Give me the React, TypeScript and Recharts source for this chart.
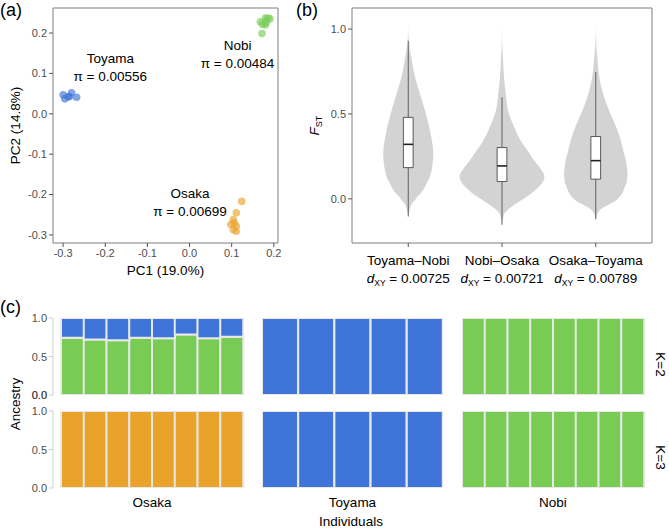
import React from 'react'
import {
  Area,
  Bar,
  BarChart,
  ComposedChart,
  ReferenceArea,
  ReferenceLine,
  Scatter,
  ScatterChart,
  XAxis,
  YAxis,
} from 'recharts'

const BLUE = '#3f74d8'
const GREEN = '#78cc54'
const ORANGE = '#e9a32b'
const TICK_TEXT = '#4d4d4d'
const FONT = '"Liberation Sans", Arial, Helvetica, sans-serif'

// (a) PCA
const toyamaPC1 = [-0.3, -0.296, -0.288, -0.285, -0.28, -0.268]
const toyamaPC2 = [0.047, 0.037, 0.042, 0.043, 0.052, 0.041]
const nobiPC1 = [0.168, 0.18, 0.186, 0.18, 0.172, 0.173, 0.191, 0.182]
const nobiPC2 = [0.228, 0.237, 0.237, 0.22, 0.199, 0.222, 0.235, 0.227]
const osakaPC1 = [0.124, 0.111, 0.104, 0.106, 0.098, 0.111, 0.111, 0.104]
const osakaPC2 = [-0.217, -0.245, -0.262, -0.27, -0.274, -0.278, -0.291, -0.287]
const pcXTicks = [-0.3, -0.2, -0.1, 0, 0.1, 0.2]
const pcYTicks = [-0.3, -0.2, -0.1, 0, 0.1, 0.2]
const pcXDomain = [-0.324, 0.21]
const pcYDomain = [-0.32, 0.262]
const popNames = ['Toyama', 'Nobi', 'Osaka']
const popPi = ['0.00556', '0.00484', '0.00699']
const popLabelPC1 = [-0.188, 0.114, 0.001]
const popLabelPC2 = [0.139, 0.17, -0.196]

// (b) Fst violins
const pairNames = ['Toyama–Nobi', 'Nobi–Osaka', 'Osaka–Toyama']
const pairDxy = ['0.00725', '0.00721', '0.00789']
const fstGrid = [
  -0.155, -0.125, -0.105, -0.085, -0.065, -0.045, -0.025, -0.005, 0.015, 0.035,
  0.07, 0.09, 0.13, 0.14, 0.17, 0.19, 0.23, 0.27, 0.33, 0.43, 0.52, 0.62, 0.72,
  0.82, 0.92, 1.035,
]
const violinToyamaNobi = [
  0, 0, 0, 0.007, 0.014, 0.025, 0.043, 0.075, 0.1, 0.135, 0.178, 0.195, 0.231,
  0.236, 0.25, 0.256, 0.264, 0.267, 0.256, 0.22, 0.178, 0.124, 0.071, 0.036,
  0.011, 0,
]
const violinNobiOsaka = [
  0, 0.007, 0.015, 0.028, 0.06, 0.107, 0.16, 0.213, 0.27, 0.32, 0.39, 0.425,
  0.452, 0.45, 0.42, 0.395, 0.338, 0.29, 0.213, 0.124, 0.065, 0.039, 0.021,
  0.011, 0.004, 0,
]
const violinOsakaToyama = [
  0, 0, 0.008, 0.018, 0.045, 0.1, 0.17, 0.225, 0.26, 0.284, 0.31, 0.327, 0.336,
  0.338, 0.336, 0.33, 0.32, 0.3, 0.274, 0.213, 0.142, 0.078, 0.036, 0.018,
  0.007, 0,
]
const boxLow = [-0.104, -0.153, -0.12]
const boxQ1 = [0.184, 0.102, 0.116]
const boxMedian = [0.321, 0.194, 0.225]
const boxQ3 = [0.48, 0.302, 0.367]
const boxHigh = [0.931, 0.598, 0.747]

// (c) ancestry
const osakaIds = ['O1', 'O2', 'O3', 'O4', 'O5', 'O6', 'O7', 'O8']
const toyamaIds = ['T1', 'T2', 'T3', 'T4', 'T5']
const nobiIds = ['N1', 'N2', 'N3', 'N4', 'N5', 'N6', 'N7', 'N8']
const osakaK2Green = [0.742, 0.721, 0.712, 0.742, 0.738, 0.785, 0.738, 0.755]
const osakaK2Blue = [0.258, 0.279, 0.288, 0.258, 0.262, 0.215, 0.262, 0.245]
const toyamaK2Blue = [1, 1, 1, 1, 1]
const nobiK2Green = [1, 1, 1, 1, 1, 1, 1, 1]
const osakaK3Orange = [1, 1, 1, 1, 1, 1, 1, 1]
const toyamaK3Blue = [1, 1, 1, 1, 1]
const nobiK3Green = [1, 1, 1, 1, 1, 1, 1, 1]
const ancestryTicks = [0, 0.5, 1]

const pcPoints = (xs: number[], ys: number[]) => xs.map((x, i) => ({ x, y: ys[i] }))
const popLabels = popNames.map((name, i) => ({
  name,
  pi: popPi[i],
  x: popLabelPC1[i],
  y: popLabelPC2[i],
}))

const violinRows = fstGrid.map((fst, i) => ({
  fst,
  tn: [1 - violinToyamaNobi[i], 1 + violinToyamaNobi[i]],
  no: [2 - violinNobiOsaka[i], 2 + violinNobiOsaka[i]],
  ot: [3 - violinOsakaToyama[i], 3 + violinOsakaToyama[i]],
}))

const ancestryRows = (
  ids: string[],
  parts: { orange?: number[]; green?: number[]; blue?: number[] },
) =>
  ids.map((id, i) => ({
    id,
    orange: parts.orange ? parts.orange[i] : 0,
    green: parts.green ? parts.green[i] : 0,
    blue: parts.blue ? parts.blue[i] : 0,
  }))

const fmt1 = (v: number) => v.toFixed(1)
const dot = (color: string) => (p: any) => (
  <circle cx={p.cx} cy={p.cy} r={3.8} fill={color} fillOpacity={0.65} />
)

function PopLabel(p: any) {
  return (
    <g>
      <text x={p.cx} y={p.cy + 5} textAnchor='middle' fontSize={13.5} fill='#000'>
        {p.payload.name}
      </text>
      <text x={p.cx} y={p.cy + 23} textAnchor='middle' fontSize={13.5} fill='#000'>
        π = {p.payload.pi}
      </text>
    </g>
  )
}

function PairTick({ x, y, payload }: any) {
  const i = Math.round(payload.value) - 1
  return (
    <g>
      <text x={x} y={y + 16} textAnchor='middle' fontSize={13.5} fill='#000'>
        {pairNames[i]}
      </text>
      <text x={x} y={y + 34} textAnchor='middle' fontSize={13.5} fill='#000'>
        <tspan fontStyle='italic'>d</tspan>
        <tspan fontSize={8.5} dy={3}>XY</tspan>
        <tspan dy={-3}> = {pairDxy[i]}</tspan>
      </text>
    </g>
  )
}

// ancestry y tick, drawn by the axis at each tick position
function AncestryTick({ x, y, payload }: any) {
  return (
    <text x={x} y={y + 4} textAnchor='end' fontSize={11} fill={TICK_TEXT}>
      {fmt1(payload.value)}
    </text>
  )
}

const verticalTitle = (text: React.ReactNode, dx: number) => (props: any) => {
  const vb = props.viewBox
  const cx = vb.x + dx
  const cy = vb.y + vb.height / 2
  return (
    <text
      x={cx}
      y={cy}
      textAnchor='middle'
      fontSize={13.5}
      fill='#000'
      transform={`rotate(-90, ${cx}, ${cy})`}
    >
      {text}
    </text>
  )
}

const horizontalTitle = (text: string, dy: number) => (props: any) => {
  const vb = props.viewBox
  return (
    <text x={vb.x + vb.width / 2} y={vb.y + dy} textAnchor='middle' fontSize={13.5} fill='#000'>
      {text}
    </text>
  )
}

const kTitle = (text: string) => (props: any) => {
  const vb = props.viewBox
  const cx = vb.x + vb.width / 2 - 4
  const cy = vb.y + 8 + 77 / 2
  return (
    <text
      x={cx}
      y={cy}
      textAnchor='middle'
      fontSize={13.5}
      fill='#000'
      transform={`rotate(90, ${cx}, ${cy})`}
    >
      {text}
    </text>
  )
}

// zero label for the upper ancestry row, placed on the y scale at 0
const zeroLabel = (props: any) => {
  const vb = props.viewBox
  return (
    <text x={vb.x - 6} y={vb.y + 4} textAnchor='end' fontSize={11} fill={TICK_TEXT}>
      {fmt1(0)}
    </text>
  )
}

function PcaPanel() {
  return (
    <ScatterChart
      width={290}
      height={290}
      margin={{ top: 8, right: 12, bottom: 0, left: 0 }}
      style={{ position: 'absolute', left: 0, top: 0 }}
    >
      <XAxis
        type='number'
        dataKey='x'
        domain={pcXDomain}
        ticks={pcXTicks}
        interval={0}
        tickFormatter={fmt1}
        height={47}
        axisLine={false}
        tickSize={4}
        tickLine={{ stroke: '#555' }}
        tick={{ fill: TICK_TEXT, fontSize: 11 }}
        label={{ content: horizontalTitle('PC1 (19.0%)', 32) }}
      />
      <YAxis
        type='number'
        dataKey='y'
        domain={pcYDomain}
        ticks={pcYTicks}
        interval={0}
        tickFormatter={fmt1}
        width={53}
        axisLine={false}
        tickSize={4}
        tickLine={{ stroke: '#555' }}
        tick={{ fill: TICK_TEXT, fontSize: 11 }}
        label={{ content: verticalTitle('PC2 (14.8%)', 20) }}
      />
      <ReferenceArea
        x1={pcXDomain[0]}
        x2={pcXDomain[1]}
        y1={pcYDomain[0]}
        y2={pcYDomain[1]}
        fill='none'
        fillOpacity={0}
        stroke='#7f7f7f'
        strokeWidth={1}
        ifOverflow='visible'
      />
      <Scatter data={pcPoints(toyamaPC1, toyamaPC2)} shape={dot(BLUE)} isAnimationActive={false} />
      <Scatter data={pcPoints(nobiPC1, nobiPC2)} shape={dot(GREEN)} isAnimationActive={false} />
      <Scatter data={pcPoints(osakaPC1, osakaPC2)} shape={dot(ORANGE)} isAnimationActive={false} />
      <Scatter data={popLabels} shape={PopLabel} isAnimationActive={false} />
    </ScatterChart>
  )
}

function FstPanel() {
  const fstDomain = [-0.26, 1.124]
  const catDomain = [0.4, 3.6]
  return (
    <ComposedChart
      layout='vertical'
      width={369}
      height={290}
      data={violinRows}
      margin={{ top: 8, right: 17, bottom: 0, left: 0 }}
      style={{ position: 'absolute', left: 300, top: 0 }}
    >
      <defs>
        <linearGradient id='violinFade' x1='0' y1='0' x2='0' y2='1'>
          <stop offset='0' stopColor='#d3d3d3' stopOpacity={0.15} />
          <stop offset='0.17' stopColor='#d3d3d3' stopOpacity={1} />
          <stop offset='1' stopColor='#d3d3d3' stopOpacity={1} />
        </linearGradient>
      </defs>
      <XAxis
        type='number'
        domain={catDomain}
        ticks={[1, 2, 3]}
        height={47}
        axisLine={false}
        tickSize={4}
        tickLine={{ stroke: '#555' }}
        tick={<PairTick />}
        interval={0}
      />
      <YAxis
        type='number'
        dataKey='fst'
        domain={fstDomain}
        reversed
        ticks={[0, 0.5, 1]}
        interval={0}
        tickFormatter={fmt1}
        width={52}
        axisLine={false}
        tickSize={4}
        tickLine={{ stroke: '#555' }}
        tick={{ fill: TICK_TEXT, fontSize: 11 }}
        label={{
          content: verticalTitle(
            <>
              <tspan fontStyle='italic'>F</tspan>
              <tspan fontSize={9} dy={3}>ST</tspan>
            </>,
            19,
          ),
        }}
      />
      <ReferenceArea
        x1={catDomain[0]}
        x2={catDomain[1]}
        y1={fstDomain[0]}
        y2={fstDomain[1]}
        fill='none'
        fillOpacity={0}
        stroke='#7f7f7f'
        strokeWidth={1}
        ifOverflow='visible'
      />
      <Area dataKey='tn' type='monotone' fill='url(#violinFade)' fillOpacity={1} stroke='none' isAnimationActive={false} />
      <Area dataKey='no' type='monotone' fill='url(#violinFade)' fillOpacity={1} stroke='none' isAnimationActive={false} />
      <Area dataKey='ot' type='monotone' fill='url(#violinFade)' fillOpacity={1} stroke='none' isAnimationActive={false} />
      {pairNames.map((name, i) => (
        <ReferenceLine
          key={`lo-${name}`}
          segment={[{ x: i + 1, y: boxLow[i] }, { x: i + 1, y: boxQ1[i] }]}
          stroke='#444'
          strokeWidth={0.8}
          ifOverflow='visible'
          zIndex={450}
        />
      ))}
      {pairNames.map((name, i) => (
        <ReferenceLine
          key={`hi-${name}`}
          segment={[{ x: i + 1, y: boxQ3[i] }, { x: i + 1, y: boxHigh[i] }]}
          stroke='#444'
          strokeWidth={0.8}
          ifOverflow='visible'
          zIndex={450}
        />
      ))}
      {pairNames.map((name, i) => (
        <ReferenceArea
          key={`box-${name}`}
          x1={i + 1 - 0.052}
          x2={i + 1 + 0.052}
          y1={boxQ1[i]}
          y2={boxQ3[i]}
          fill='#fff'
          fillOpacity={1}
          stroke='#333'
          strokeWidth={0.8}
          ifOverflow='visible'
          zIndex={460}
        />
      ))}
      {pairNames.map((name, i) => (
        <ReferenceLine
          key={`med-${name}`}
          segment={[
            { x: i + 1 - 0.052, y: boxMedian[i] },
            { x: i + 1 + 0.052, y: boxMedian[i] },
          ]}
          stroke='#222'
          strokeWidth={1.6}
          ifOverflow='visible'
          zIndex={470}
        />
      ))}
    </ComposedChart>
  )
}

interface FacetProps {
  rows: Array<{ id: string; orange: number; green: number; blue: number }>
  left: number
  top: number
  width: number
  showY: boolean
  group?: string
  k?: string
}

// both rows share one geometry: 8px top, 77px plot, 26px under it
function Facet({ rows, left, top, width, showY, group, k }: FacetProps) {
  const rightW = k ? 32 : 0
  return (
    <BarChart
      width={width + (showY ? 53 : 0) + rightW}
      height={8 + 77 + 26}
      data={rows}
      barCategoryGap={0}
      margin={{ top: 8, right: 0, bottom: 0, left: 0 }}
      style={{ position: 'absolute', left, top }}
    >
      <XAxis
        dataKey='id'
        height={26}
        tick={false}
        tickLine={false}
        axisLine={false}
        padding={showY ? { left: 8, right: 8 } : { left: 0, right: 0 }}
        label={group ? { content: horizontalTitle(group, 19) } : undefined}
      />
      <YAxis
        type='number'
        domain={[0, 1]}
        allowDataOverflow
        ticks={ancestryTicks}
        interval={0}
        hide={!showY}
        width={53}
        axisLine={{ stroke: '#cfcfcf' }}
        tickLine={{ stroke: '#cfcfcf' }}
        tickSize={4}
        tick={<AncestryTick />}
      />
      {k && (
        <YAxis
          yAxisId='k'
          orientation='right'
          width={rightW}
          tick={false}
          tickLine={false}
          axisLine={false}
          label={{ content: kTitle(k) }}
        />
      )}
      <Bar dataKey='orange' stackId='a' fill={ORANGE} stroke='#e8e8e8' strokeWidth={2} isAnimationActive={false} />
      <Bar dataKey='green' stackId='a' fill={GREEN} stroke='#e8e8e8' strokeWidth={2} isAnimationActive={false} />
      <Bar dataKey='blue' stackId='a' fill={BLUE} stroke='#e8e8e8' strokeWidth={2} isAnimationActive={false} />
      {showY && !group && (
        <ReferenceLine
          y={0}
          stroke='none'
          ifOverflow='visible'
          label={{ content: zeroLabel }}
        />
      )}
    </BarChart>
  )
}

function AncestryPanel() {
  return (
    <>
      <Facet rows={ancestryRows(osakaIds, { orange: osakaK3Orange })} left={0} top={403} width={198} showY group='Osaka' />
      <Facet rows={ancestryRows(toyamaIds, { blue: toyamaK3Blue })} left={262} top={403} width={181} showY={false} group='Toyama' />
      <Facet rows={ancestryRows(nobiIds, { green: nobiK3Green })} left={462} top={403} width={182} showY={false} group='Nobi' k='K=3' />
      <Facet rows={ancestryRows(osakaIds, { green: osakaK2Green, blue: osakaK2Blue })} left={0} top={310} width={198} showY />
      <Facet rows={ancestryRows(toyamaIds, { blue: toyamaK2Blue })} left={262} top={310} width={181} showY={false} />
      <Facet rows={ancestryRows(nobiIds, { green: nobiK2Green })} left={462} top={310} width={182} showY={false} k='K=2' />
    </>
  )
}

export default function App() {
  return (
    <div
      style={{
        position: 'absolute',
        left: 0,
        top: 0,
        width: 669,
        height: 531,
        background: '#fff',
        fontFamily: FONT,
      }}
    >
      <PcaPanel />
      <FstPanel />
      <AncestryPanel />
      <svg
        width={669}
        height={531}
        style={{ position: 'absolute', left: 0, top: 0, pointerEvents: 'none' }}
      >
        <text x={0} y={16} fontSize={18}>(a)</text>
        <text x={296} y={16} fontSize={18}>(b)</text>
        <text x={0} y={313} fontSize={18}>(c)</text>
        <text x={20} y={404} fontSize={13.5} textAnchor='middle' transform='rotate(-90, 20, 404)'>
          Ancestry
        </text>
        <text x={351} y={526} fontSize={13.5} textAnchor='middle'>
          Individuals
        </text>
      </svg>
    </div>
  )
}
